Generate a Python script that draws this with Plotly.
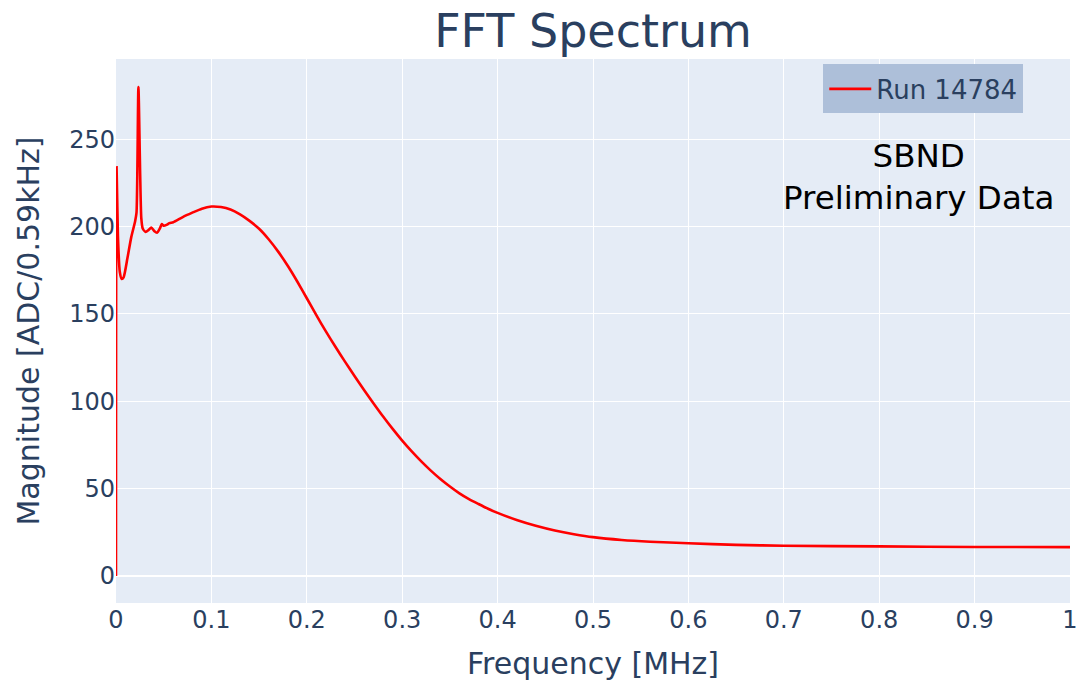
import plotly.graph_objects as go

freq_mhz = [0, 0.0006, 0.002, 0.004, 0.006, 0.008, 0.012, 0.016, 0.02, 0.0215, 0.0235, 0.0265, 0.028,
            0.031, 0.034, 0.037, 0.040, 0.043, 0.046, 0.048, 0.050, 0.053, 0.056, 0.06, 0.07, 0.08, 0.09,
            0.1, 0.11, 0.12, 0.13, 0.14, 0.15, 0.16, 0.17, 0.18, 0.19, 0.2, 0.21, 0.22, 0.23, 0.24, 0.25,
            0.26, 0.27, 0.28, 0.29, 0.3, 0.31, 0.32, 0.33, 0.34, 0.35, 0.36, 0.37, 0.38, 0.39, 0.4, 0.42,
            0.44, 0.46, 0.48, 0.5, 0.53, 0.56, 0.6, 0.65, 0.7, 0.8, 0.9, 1.0]
magnitude = [0, 234, 195, 174, 170, 171, 182, 194, 203, 208, 280, 205, 199,
             197, 198, 199.5, 197.5, 196.5, 199, 201.5, 200.5, 201, 202, 202.5, 205.5, 208, 210.3,
             211.5, 211.2, 209.8, 207, 203.3, 198.8, 192.8, 185.7, 177.6, 168.6, 159, 149.3, 140, 131.2,
             122.7, 114.5, 106.5, 98.8, 91.3, 84.2, 77.5, 71.3, 65.6, 60.3, 55.5, 51.2, 47.3, 44, 41.2,
             38.5, 36.1, 32, 28.7, 26, 23.9, 22.2, 20.6, 19.6, 18.7, 17.8, 17.3, 16.9, 16.6, 16.5]

series_name = "Run 14784"
x_ticks = [0, 0.1, 0.2, 0.3, 0.4, 0.5, 0.6, 0.7, 0.8, 0.9, 1]
x_tick_labels = ["0", "0.1", "0.2", "0.3", "0.4", "0.5", "0.6", "0.7", "0.8", "0.9", "1"]
y_ticks = [0, 50, 100, 150, 200, 250]

FONT = "Verdana, DejaVu Sans, sans-serif"

fig = go.Figure()
fig.add_trace(go.Scatter(x=freq_mhz, y=magnitude, mode="lines", name=series_name,
                         line=dict(color="#ff0000", width=2.6, shape="spline", smoothing=0.6)))

fig.update_layout(
    width=1079, height=684,
    template="plotly",
    font=dict(family=FONT, color="#2a3f5f", size=24),
    title=dict(text="FFT Spectrum", x=0.5, xref="paper", xanchor="center",
               y=1 - 31 / 684, yref="container", yanchor="middle",
               font=dict(size=46, family=FONT, color="#2a3f5f")),
    margin=dict(l=116, r=9, t=59, b=81, autoexpand=False),
    showlegend=True,
    legend=dict(x=0.951, xanchor="right", y=0.99, yanchor="top", itemwidth=42,
                bgcolor="#adbfd9", borderwidth=1, bordercolor="#adbfd9",
                font=dict(size=26, family=FONT, color="#2a3f5f")),
    xaxis=dict(title=dict(text="Frequency [MHz]", font=dict(size=30), standoff=19),
               range=[0, 1], tickvals=x_ticks, ticktext=x_tick_labels,
               tickfont=dict(size=24), zeroline=False),
    yaxis=dict(title=dict(text="Magnitude [ADC/0.59kHz]", font=dict(size=30), standoff=20),
               range=[-15.5, 296], tickvals=y_ticks, tickfont=dict(size=24)),
    annotations=[dict(text="SBND<br>Preliminary Data", x=0.841, y=0.783, xref="paper", yref="paper",
                      xanchor="center", yanchor="middle", showarrow=False,
                      font=dict(size=32.5, family=FONT, color="black"))],
)

fig.write_html("out.html", config={"displayModeBar": False},
               post_script="document.body.style.margin='0';")
